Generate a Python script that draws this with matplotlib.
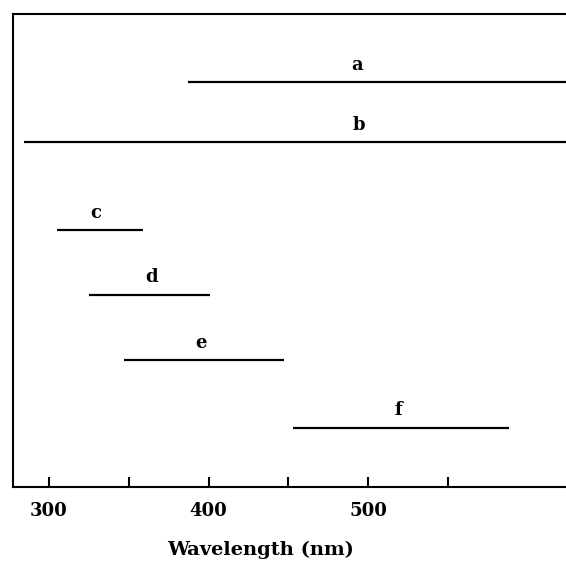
import matplotlib
matplotlib.use("Agg")
import matplotlib.pyplot as plt

labels = ["a", "b", "c", "d", "e", "f"]
starts = [387, 284, 305, 325, 347, 453]
ends = [640, 640, 359, 401, 447, 588]
levels = [0.856, 0.729, 0.543, 0.406, 0.268, 0.125]
label_x = [493, 494, 329, 364, 395, 519]

major_ticks = [300, 400, 500]
minor_ticks = [350, 450, 550]

plt.rcParams['font.family'] = ['DejaVu Serif']
fig = plt.figure(figsize=(5.66, 5.67), dpi=100)
ax = fig.add_axes([13/566, 1 - 487/567, 553/566, (487 - 14)/567])
ax.set_xlim(277.4, 624)
ax.set_ylim(0, 1)

for s, e, y in zip(starts, ends, levels):
    ax.plot([s, e], [y, y], color='black', lw=1.6, solid_capstyle='butt')

for lab, x, y in zip(labels, label_x, levels):
    ax.text(x, y + 0.018, lab, ha='center', va='bottom', fontsize=13, fontweight='bold')

ax.spines['right'].set_visible(False)
for sp in ['left', 'bottom', 'top']:
    ax.spines[sp].set_linewidth(1.5)
ax.set_yticks([])
ax.set_xticks(major_ticks)
ax.set_xticks(minor_ticks, minor=True)
ax.tick_params(axis='x', which='both', direction='in', length=7, width=1.5, pad=11, labelsize=13)
for t in ax.get_xticklabels():
    t.set_fontweight('bold')
ax.set_xlabel('Wavelength (nm)', fontsize=14, fontweight='bold')
ax.xaxis.set_label_coords(0.448, -0.133)
ax.xaxis.label.set_va('center')

fig.savefig('out.png', dpi=100)
